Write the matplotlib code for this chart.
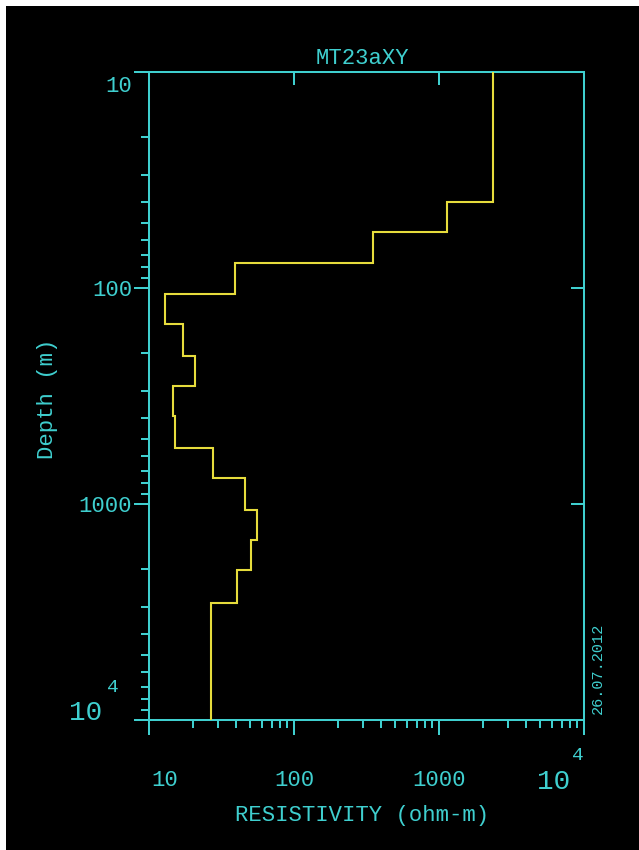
import matplotlib
matplotlib.use('Agg')
import matplotlib.pyplot as plt
from matplotlib.patches import Rectangle
from matplotlib.ticker import LogLocator, NullFormatter

# ---- data ----
depth_edges = [10, 40, 55, 77, 107, 147, 207, 285, 393, 551, 759, 1069, 1468, 2022, 2865, 10000]
resistivity = [2356, 1141, 352, 39.2, 12.9, 17.1, 20.8, 14.6, 15.0, 27.6, 46.1, 55.8, 50.8, 40.6, 26.8]
x_ticks = [10, 100, 1000, 10000]
x_tick_labels = ['10', '100', '1000', '10']
y_ticks = [10, 100, 1000, 10000]
y_tick_labels = ['10', '100', '1000', '10']
exp_label = '4'
title = 'MT23aXY'
xlabel = 'RESISTIVITY (ohm-m)'
ylabel = 'Depth (m)'
date_text = '26.07.2012'

CYAN = '#3fcfcf'
YELLOW = '#e6dc3c'
FONT = ['Liberation Mono', 'DejaVu Sans Mono']
plt.rcParams['font.family'] = FONT

W, H = 639, 850
fig = plt.figure(figsize=(W / 100, H / 100), dpi=100, facecolor='white')
fig.patches.append(Rectangle((6 / W, 0), 1, 1 - 6 / H, transform=fig.transFigure,
                             facecolor='black', edgecolor='none', zorder=-10))

ax = fig.add_axes([149 / W, 1 - 720 / H, 435 / W, 648 / H])
ax.set_facecolor('black')
ax.set_xscale('log')
ax.set_yscale('log')
ax.set_xlim(10, 1e4)
ax.set_ylim(1e4, 10)

ax.stairs(resistivity, depth_edges, orientation='horizontal', baseline=None,
          color=YELLOW, linewidth=1.5, zorder=3)

lw = 1.45
for s in ax.spines.values():
    s.set_color(CYAN)
    s.set_linewidth(lw)

ax.set_xticks(x_ticks)
ax.set_yticks(y_ticks)
ax.xaxis.set_minor_locator(LogLocator(base=10, subs=range(2, 10), numticks=20))
ax.yaxis.set_minor_locator(LogLocator(base=10, subs=range(2, 10), numticks=20))
ax.xaxis.set_minor_formatter(NullFormatter())
ax.yaxis.set_minor_formatter(NullFormatter())
ax.tick_params(which='major', direction='out', length=10.8, width=lw, color=CYAN,
               labelbottom=False, labelleft=False, top=False, right=False)
ax.tick_params(which='minor', direction='out', length=5.8, width=lw, color=CYAN,
               top=False, right=False)

# inward major ticks on top and right
secx = ax.secondary_xaxis('top')
secx.set_xticks(x_ticks)
secx.xaxis.set_minor_locator(plt.NullLocator())
secx.tick_params(which='major', direction='in', length=9.4, width=lw, color=CYAN, labeltop=False)
secx.spines['top'].set_color(CYAN)
secx.spines['top'].set_linewidth(lw)
secy = ax.secondary_yaxis('right')
secy.set_yticks(y_ticks)
secy.yaxis.set_minor_locator(plt.NullLocator())
secy.tick_params(which='major', direction='in', length=9.4, width=lw, color=CYAN, labelright=False)
secy.spines['right'].set_color(CYAN)
secy.spines['right'].set_linewidth(lw)

tk = dict(color=CYAN, fontsize=16, textcoords='offset pixels', va='center', annotation_clip=False)

# y tick labels
y_offsets = [(-17, -15), (-17, -3), (-17, -3)]
for val, lab, off in zip(y_ticks[:3], y_tick_labels[:3], y_offsets):
    ax.annotate(lab, xy=(0, val), xycoords=('axes fraction', 'data'), xytext=off, ha='right', **tk)
ax.annotate(y_tick_labels[3], xy=(0, y_ticks[3]), xycoords=('axes fraction', 'data'),
            xytext=(-63, 7), ha='center', **{**tk, 'fontsize': 20})
ax.annotate(exp_label, xy=(0, y_ticks[3]), xycoords=('axes fraction', 'data'),
            xytext=(-36, 33), ha='center', **{**tk, 'fontsize': 14})

# x tick labels
x_offsets = [(2, -61), (0, -61), (0, -61)]
x_has = ['left', 'center', 'center']
for val, lab, off, ha in zip(x_ticks[:3], x_tick_labels[:3], x_offsets, x_has):
    ax.annotate(lab, xy=(val, 0), xycoords=('data', 'axes fraction'), xytext=off, ha=ha, **tk)
ax.annotate(x_tick_labels[3], xy=(x_ticks[3], 0), xycoords=('data', 'axes fraction'),
            xytext=(-30, -62), ha='center', **{**tk, 'fontsize': 20})
ax.annotate(exp_label, xy=(x_ticks[3], 0), xycoords=('data', 'axes fraction'),
            xytext=(-6, -36), ha='center', **{**tk, 'fontsize': 14})

fig.text(362 / W, 1 - 58 / H, title, color=CYAN, fontsize=16, ha='center', va='center')
fig.text(362 / W, 1 - 816 / H, xlabel, color=CYAN, fontsize=16, ha='center', va='center')
fig.text(47 / W, 1 - 399 / H, ylabel, color=CYAN, fontsize=16, ha='center', va='center', rotation=90)
fig.text(598 / W, 1 - 668 / H, date_text, color=CYAN, fontsize=11, ha='center', va='center', rotation=90)

fig.savefig('out.png', dpi=100, facecolor=fig.get_facecolor())
